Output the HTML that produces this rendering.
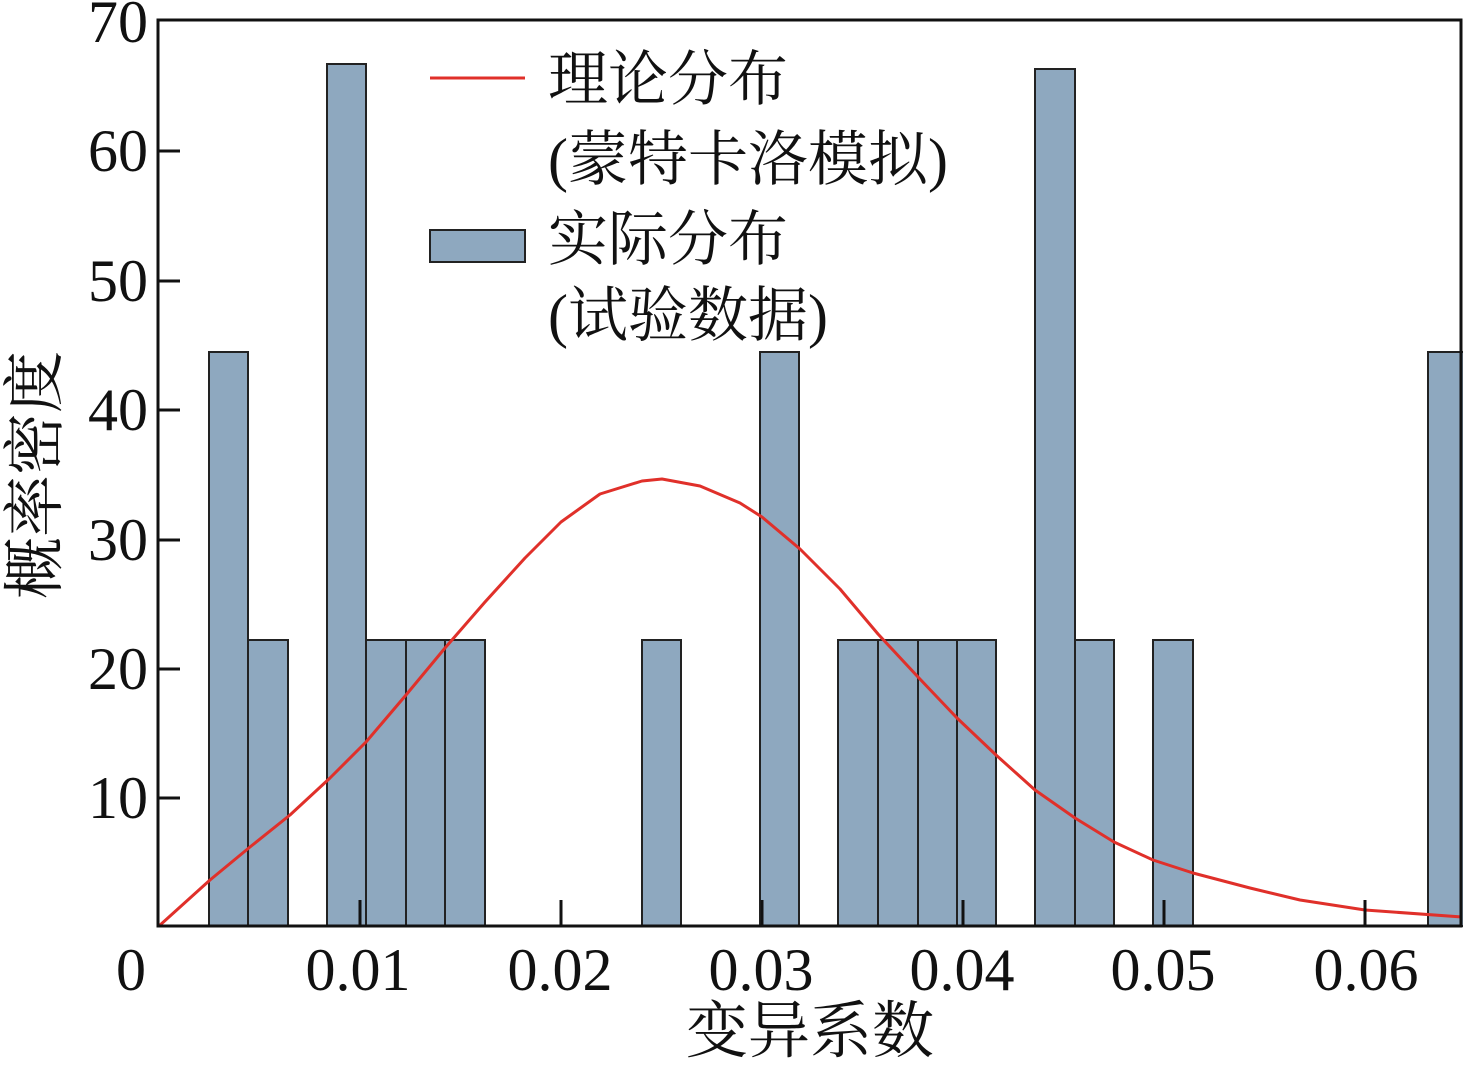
<!DOCTYPE html>
<html><head><meta charset="utf-8"><style>
body{margin:0;background:#fff;}
svg text{font-family:"Liberation Serif","Noto Serif CJK SC",serif;fill:#111;}
</style></head><body>
<svg width="1463" height="1062" viewBox="0 0 1463 1062" xmlns="http://www.w3.org/2000/svg">
<g fill="#8ea8bf" stroke="#222" stroke-width="2">
<rect x="209" y="352" width="39" height="574"/>
<rect x="248" y="640" width="40" height="286"/>
<rect x="327" y="64" width="39" height="862"/>
<rect x="366" y="640" width="40" height="286"/>
<rect x="406" y="640" width="39" height="286"/>
<rect x="445" y="640" width="40" height="286"/>
<rect x="642" y="640" width="39" height="286"/>
<rect x="760" y="352" width="39" height="574"/>
<rect x="838" y="640" width="40" height="286"/>
<rect x="878" y="640" width="40" height="286"/>
<rect x="918" y="640" width="39" height="286"/>
<rect x="957" y="640" width="39" height="286"/>
<rect x="1035" y="69" width="40" height="857"/>
<rect x="1075" y="640" width="39" height="286"/>
<rect x="1153" y="640" width="40" height="286"/>
<rect x="1428" y="352" width="36" height="574"/>
</g>
<polyline fill="none" stroke="#e0302a" stroke-width="3" stroke-linejoin="round" points="159,926 210,880 250,847 290,815 330,778 366,742 406,695 445,648 485,602 525,558 561,522 600,494 642,481 662,479 700,486 740,503 762,517 800,549 840,589 878,634 918,677 957,718 996,755 1035,790 1075,818 1114,842 1153,860 1193,873 1250,888 1300,900 1365,910 1462,917"/>
<rect x="158" y="20" width="1303" height="906" fill="none" stroke="#111" stroke-width="3"/>
<g stroke="#111" stroke-width="3">
<line x1="158" y1="798" x2="180" y2="798"/><line x1="158" y1="669" x2="180" y2="669"/>
<line x1="158" y1="540" x2="180" y2="540"/><line x1="158" y1="410" x2="180" y2="410"/>
<line x1="158" y1="281" x2="180" y2="281"/><line x1="158" y1="151" x2="180" y2="151"/>
<line x1="360" y1="926" x2="360" y2="900"/><line x1="561" y1="926" x2="561" y2="900"/>
<line x1="762" y1="926" x2="762" y2="900"/><line x1="963" y1="926" x2="963" y2="900"/>
<line x1="1164" y1="926" x2="1164" y2="900"/><line x1="1365" y1="926" x2="1365" y2="900"/>
</g>
<g font-size="60" text-anchor="end">
<text x="148" y="818">10</text><text x="148" y="689">20</text><text x="148" y="560">30</text>
<text x="148" y="430">40</text><text x="148" y="301">50</text><text x="148" y="171">60</text>
<text x="148" y="42">70</text><text x="146" y="990">0</text>
</g>
<g font-size="60" text-anchor="middle">
<text x="358" y="990">0.01</text><text x="560" y="990">0.02</text><text x="761" y="990">0.03</text>
<text x="962" y="990">0.04</text><text x="1163" y="990">0.05</text><text x="1366" y="990">0.06</text>
<text x="810" y="1052" font-size="62">变异系数</text>
<text transform="translate(56,475) rotate(-90)" font-size="62">概率密度</text>
</g>
<line x1="430" y1="78" x2="525" y2="78" stroke="#e0302a" stroke-width="3"/>
<rect x="430" y="230" width="95" height="32" fill="#8ea8bf" stroke="#222" stroke-width="2"/>
<g font-size="60">
<text x="548" y="100">理论分布</text>
<text x="548" y="180">(蒙特卡洛模拟)</text>
<text x="548" y="260">实际分布</text>
<text x="548" y="336">(试验数据)</text>
</g>
</svg>
</body></html>
